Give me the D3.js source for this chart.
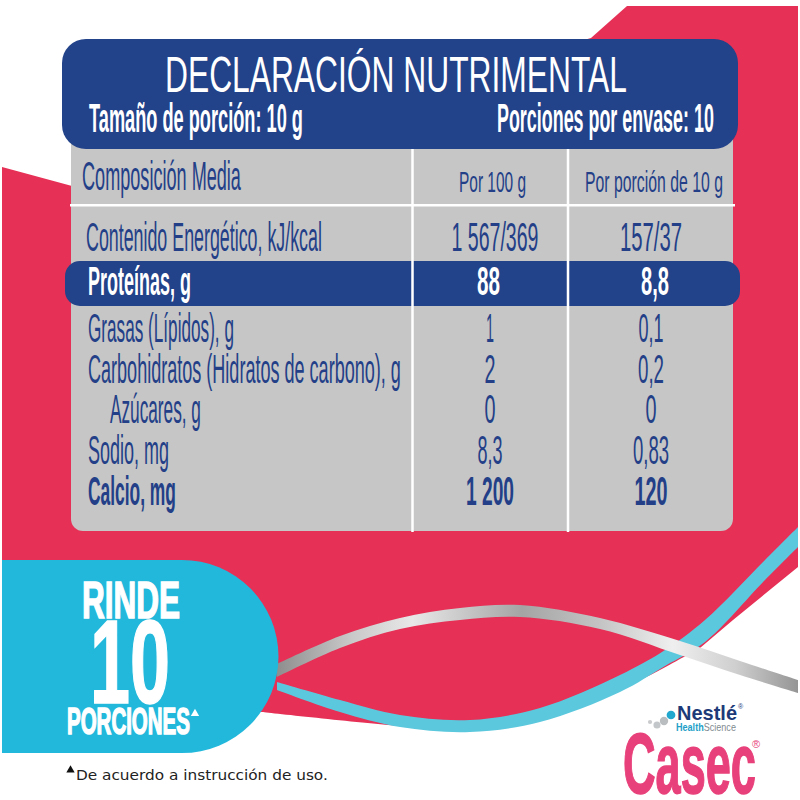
<!doctype html>
<html lang="es">

<head>
    <title>Declaración nutrimental</title>
    <meta charset="utf-8">
    <style>
        html, body { margin: 0; padding: 0; background: #fff; }
        svg { display: block; }
        text { font-family: "Liberation Sans Narrow", "Liberation Sans", sans-serif; }
    </style>
</head>

<body>
    <div id="chart"></div>

    <script src="https://cdnjs.cloudflare.com/ajax/libs/d3/7.8.5/d3.min.js"></script>

    <script>
        // table content
        const title = "DECLARACIÓN NUTRIMENTAL";
        const servingSize = "Tamaño de porción: 10 g";
        const servingsPerPack = "Porciones por envase: 10";
        const columnHeaders = ["Composición Media", "Por 100 g", "Por porción de 10 g"];
        const rowLabels = ["Contenido Energético, kJ/kcal", "Proteínas, g", "Grasas (Lípidos), g",
            "Carbohidratos (Hidratos de carbono), g", "Azúcares, g", "Sodio, mg", "Calcio, mg"];
        const per100 = ["1 567/369", "88", "1", "2", "0", "8,3", "1 200"];
        const perServing = ["157/37", "8,8", "0,1", "0,2", "0", "0,83", "120"];
        const boldRows = ["Proteínas, g", "Calcio, mg"];

        const width = 800;
        const height = 800;
        const navy = "#224289";
        const textBlue = "#233f88";
        const pink = "#e8407a";

        // printed width of each string, the fonts here are wider than the artwork's
        const fitWidth = {
            "Composición Media": 159, "Por 100 g": 67, "Por porción de 10 g": 138,
            "Contenido Energético, kJ/kcal": 236, "Proteínas, g": 103, "Grasas (Lípidos), g": 146,
            "Carbohidratos (Hidratos de carbono), g": 313, "Azúcares, g": 91, "Sodio, mg": 81, "Calcio, mg": 88,
            "1 567/369": 87, "157/37": 62, "88": 23, "8,8": 28, "1": 8, "0,1": 25, "2": 11, "0,2": 26,
            "0": 11, "8,3": 25, "0,83": 36, "1 200": 48, "120": 33
        };
        // a few cells sit off the column centre in the artwork
        const cellNudge = { "1 567/369": 5, "88": -1.5, "8,8": 4 };

        const svg = d3.select("#chart").append("svg").attr("width", width).attr("height", height);
        const defs = svg.append("defs");

        const silver = defs.append("linearGradient").attr("id", "silver")
            .attr("gradientUnits", "userSpaceOnUse")
            .attr("x1", 277).attr("x2", 798).attr("y1", 0).attr("y2", 0);
        [[0, "#8e8e8e"], [0.14, "#c8c8c8"], [0.26, "#e8e8e8"], [0.47, "#a4a4a4"], [0.62, "#c4c4c4"],
        [0.76, "#efefef"], [0.88, "#cfcfcf"], [1, "#959595"]].forEach(s =>
            silver.append("stop").attr("offset", s[0]).attr("stop-color", s[1]));

        drawBackground();
        drawTable();
        drawBadge();
        drawLogo();

        // squeeze a text to w pixels around its own anchor
        function fitText(sel, w) {
            sel.each(function () {
                const x = +this.getAttribute("x");
                const y = +this.getAttribute("y");
                const k = w / this.getComputedTextLength();
                d3.select(this)
                    .attr("x", 0).attr("y", 0)
                    .attr("transform", `translate(${x},${y}) scale(${k},1)`);
            });
        }

        function drawBackground() {
            const edge = d3.line().curve(d3.curveCatmullRom.alpha(0.5));
            const red = [[2, 167], [72, 186], [591, 38], [627, 6], [798, 6], [798, 567], [733, 620], [700, 648]];
            const redLower = [[700, 648], [620, 690], [540, 720], [470, 730], [400, 726], [262, 712]];

            svg.append("path")
                .attr("d", "M" + red.map(p => p.join(",")).join("L")
                    + edge(redLower).replace(/^M[^C]*/, "")
                    + "L2,700Z")
                .attr("fill", "#e63055");

            const ribbon = d3.area().x(d => d[0]).y0(d => d[1]).y1(d => d[2]).curve(d3.curveCatmullRom.alpha(0.5));

            const cyanBand = [[277, 682, 690], [340, 700, 712], [400, 715, 727], [470, 720, 732], [540, 708, 722],
            [620, 675, 692], [665, 650, 666], [705, 620, 642], [765, 560, 580], [798, 527, 547]];
            svg.append("path").attr("d", ribbon(cyanBand)).attr("fill", "#5cc8dd");

            const silverBand = [[277, 664, 677], [340, 636, 648], [400, 618, 629], [460, 608, 620], [520, 605, 617],
            [600, 618, 629], [680, 641, 655], [740, 661, 675], [798, 680, 693]];
            svg.append("path").attr("d", ribbon(silverBand)).attr("fill", "url(#silver)");
        }

        function drawTable() {
            const col = d3.scalePoint().domain(["per100", "perServing"]).range([490, 651]);
            const baseline = d3.scaleOrdinal().domain(rowLabels).range([251, 295, 342, 383, 423, 464, 505]);
            const labelX = d => d === rowLabels[0] ? 86 : d === "Azúcares, g" ? 110 : 88;

            // grey body, square at the top and rounded at the bottom
            svg.append("rect").attr("x", 71).attr("y", 130).attr("width", 662).attr("height", 401)
                .attr("rx", 12).attr("fill", "#c6c6c6");

            svg.append("rect").attr("x", 70).attr("y", 204).attr("width", 665).attr("height", 2.5).attr("fill", "#fff");

            svg.append("rect").attr("x", 65).attr("y", 261).attr("width", 675).attr("height", 45)
                .attr("rx", 15).attr("fill", navy);

            svg.selectAll("rect.divider")
                .data([412.5, 568])
                .join("rect")
                .attr("class", "divider")
                .attr("x", d => d - 1.25)
                .attr("y", 149)
                .attr("width", 2.5)
                .attr("height", 383)
                .attr("fill", "#fff");

            // header block
            svg.append("rect").attr("x", 62).attr("y", 39).attr("width", 676).attr("height", 110)
                .attr("rx", 24).attr("fill", navy);

            svg.append("text").text(title)
                .attr("x", 165).attr("y", 92)
                .attr("font-size", 50).attr("fill", "#fff")
                .call(fitText, 462);

            svg.append("text").text(servingSize)
                .attr("x", 89).attr("y", 132)
                .attr("font-size", 40).attr("font-weight", 700).attr("fill", "#fff")
                .call(fitText, 214);

            svg.append("text").text(servingsPerPack)
                .attr("x", 497).attr("y", 132)
                .attr("font-size", 40).attr("font-weight", 700).attr("fill", "#fff")
                .call(fitText, 217);

            // column headers
            svg.append("text").text(columnHeaders[0])
                .attr("x", 82).attr("y", 190)
                .attr("font-size", 40).attr("fill", textBlue)
                .call(fitText, fitWidth[columnHeaders[0]]);

            svg.selectAll("text.head")
                .data(columnHeaders.slice(1))
                .join("text")
                .attr("class", "head")
                .text(d => d)
                .attr("x", (d, i) => [492.5, 654][i])
                .attr("y", 192)
                .attr("text-anchor", "middle")
                .attr("font-size", 30)
                .attr("fill", textBlue)
                .each(function (d) { fitText(d3.select(this), fitWidth[d]); });

            const isBold = d => boldRows.includes(d);
            const rowFill = d => d === "Proteínas, g" ? "#fff" : textBlue;

            svg.selectAll("text.label")
                .data(rowLabels)
                .join("text")
                .attr("class", "label")
                .text(d => d)
                .attr("x", labelX)
                .attr("y", d => baseline(d))
                .attr("font-size", 40)
                .attr("font-weight", d => isBold(d) ? 700 : 400)
                .attr("fill", rowFill)
                .each(function (d) { fitText(d3.select(this), fitWidth[d]); });

            [["per100", per100], ["perServing", perServing]].forEach(([key, values]) => {
                svg.selectAll("text." + key)
                    .data(values)
                    .join("text")
                    .attr("class", key)
                    .text(d => d)
                    .attr("x", d => col(key) + (cellNudge[d] || 0))
                    .attr("y", (d, i) => baseline(rowLabels[i]))
                    .attr("text-anchor", "middle")
                    .attr("font-size", 40)
                    .attr("font-weight", (d, i) => isBold(rowLabels[i]) ? 700 : 400)
                    .attr("fill", (d, i) => rowFill(rowLabels[i]))
                    .each(function (d) { fitText(d3.select(this), fitWidth[d]); });
            });
        }

        function drawBadge() {
            svg.append("path")
                .attr("d", "M2,560H182A96.5,96.5 0 0 1 182,753H2Z")
                .attr("fill", "#22b8dc");

            const heavy = (txt, x, y, size, w) => svg.append("text").text(txt)
                .attr("x", x).attr("y", y)
                .attr("font-size", size).attr("font-weight", 700)
                .attr("fill", "#fff").attr("stroke", "#fff").attr("stroke-width", 1.6)
                .call(fitText, w);

            heavy("RINDE", 82, 618, 52, 98);
            heavy("10", 90, 703, 118, 80);
            heavy("PORCIONES", 67, 734, 37, 123);

            const tri = d3.symbol().type(d3.symbolTriangle).size(30);
            svg.append("path").attr("d", tri()).attr("transform", "translate(195,713.5)").attr("fill", "#fff");
            svg.append("path").attr("d", tri()).attr("transform", "translate(70.5,770)").attr("fill", "#111");

            svg.append("text").text("De acuerdo a instrucción de uso.")
                .attr("x", 76).attr("y", 780)
                .style("font-family", "'DejaVu Sans'")
                .attr("font-size", 14.5).attr("fill", "#222")
                .call(fitText, 252);
        }

        function drawLogo() {
            const hex = d3.symbol().type(d3.symbolCircle);
            [[671, 715, 60, "#22a7cf"], [664, 721, 55, "#b9bdc0"], [657, 725, 40, "#c4c7c9"], [650, 722, 14, "#c9cbcd"]]
                .forEach(h => svg.append("path")
                    .attr("d", hex.size(h[2])())
                    .attr("transform", `translate(${h[0]},${h[1]})`)
                    .attr("fill", h[3]));

            svg.append("text").text("Nestlé")
                .attr("x", 677).attr("y", 720)
                .style("font-family", "'Liberation Sans'")
                .attr("font-size", 21).attr("font-weight", 700).attr("fill", "#1d3a78")
                .call(fitText, 60);

            const hs = svg.append("text")
                .attr("x", 676).attr("y", 731)
                .style("font-family", "'Liberation Sans'")
                .attr("font-size", 10.5);
            hs.append("tspan").text("Health").attr("fill", "#1f9fc8").attr("font-weight", 700);
            hs.append("tspan").text("Science").attr("fill", "#7f8a90");
            hs.call(fitText, 60);

            svg.append("text").text("®")
                .attr("x", 738).attr("y", 709)
                .style("font-family", "'Liberation Sans'")
                .attr("font-size", 7).attr("fill", "#1d3a78");

            svg.append("text").text("Casec")
                .attr("x", 623).attr("y", 793)
                .attr("font-size", 86).attr("font-weight", 700)
                .attr("fill", pink).attr("stroke", pink).attr("stroke-width", 1.5)
                .call(fitText, 133);

            svg.append("text").text("®")
                .attr("x", 752).attr("y", 748)
                .style("font-family", "'Liberation Sans'")
                .attr("font-size", 11).attr("fill", pink);
        }
    </script>
</body>

</html>
